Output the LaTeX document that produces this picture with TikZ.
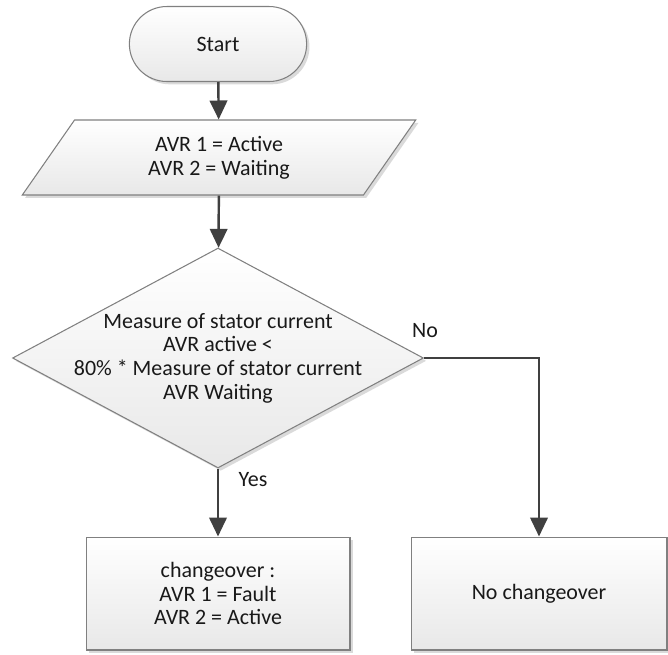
\documentclass[tikz,border=0pt]{standalone}
\usepackage{fontspec}
\setmainfont{Carlito}
\usetikzlibrary{shapes.geometric,shapes.misc,shadows,arrows.meta}

\tikzset{
  shape box/.style={draw=black!50, line width=0.6pt, top color=white, bottom color=black!9,
    drop shadow={shadow xshift=1.6pt, shadow yshift=-1.6pt, fill=black!18, opacity=0.8},
    text=black!90, align=center},
  terminal/.style={shape box, rounded rectangle, minimum width=3.78cm, minimum height=1.5cm},
  iobox/.style={shape box, trapezium, trapezium left angle=63, trapezium right angle=117,
    trapezium stretches=true, minimum width=7.88cm, minimum height=1.5cm},
  decision/.style={shape box, diamond, inner sep=0pt, minimum width=8.22cm, minimum height=4.4cm},
  process/.style={shape box, rectangle, minimum height=2.26cm},
  connector/.style={draw=black!75, line width=1.4pt, -{Triangle[length=0.38cm, width=0.35cm]}},
}

\begin{document}
\begin{tikzpicture}[x=0.02cm, y=-0.02cm, every node/.style={font=\fontsize{12.5}{13.5}\selectfont, text=black!90}]
  \useasboundingbox (0,0) rectangle (668,654);

  % boxes
  \node[terminal] (start) at (218,44) {Start};
  \node[iobox] (init) at (219,157.5) {AVR 1 = Active\\AVR 2 = Waiting};
  \node[decision] (check) at (218,358) {};
  \node[align=center] (checktext) at (check.center) {Measure of stator current\\AVR active <\\80\% * Measure of stator current\\AVR Waiting};
  \node[process, minimum width=5.28cm] (fault) at (218,593.5) {changeover :\\AVR 1 = Fault\\AVR 2 = Active};
  \node[process, minimum width=5.12cm] (nochange) at (539,593.5) {No changeover};

  % arrows
  \draw[connector] (start) -- (init);
  \draw[connector] (init) -- (check);
  \draw[connector] (check.south) -- (fault);
  \draw[connector] (check.east) -| (nochange.north);

  % labels
  \node (yeslabel) at (253,480) {Yes};
  \node (nolabel) at (425,331) {No};
\end{tikzpicture}
\end{document}
